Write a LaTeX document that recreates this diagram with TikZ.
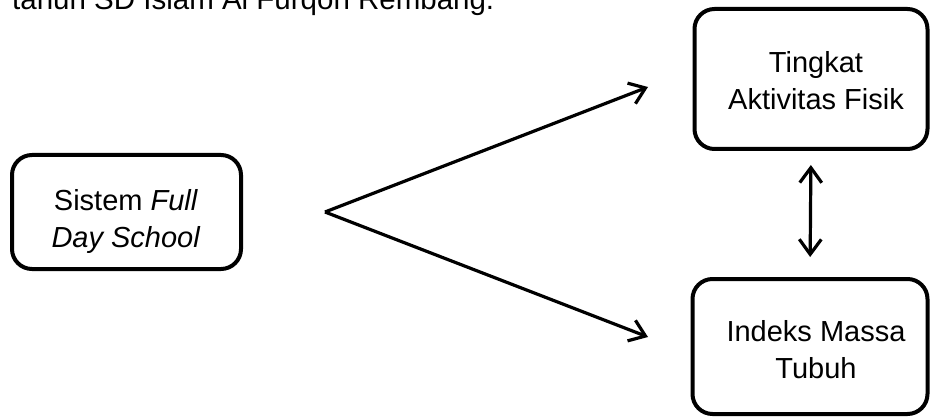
\documentclass[tikz,border=0pt]{standalone}
\usepackage{fontspec}
\setmainfont{Liberation Sans}
\usetikzlibrary{arrows.meta}
\begin{document}
\begin{tikzpicture}[x=1pt,y=-1pt,
  boxnode/.style={draw=black,line width=4pt,rounded corners=20pt,outer sep=0pt,inner sep=0pt},
  txt/.style={font=\fontsize{29}{37}\selectfont,align=center,inner sep=0pt},
  arr/.style={line width=3.2pt,-{Straight Barb[length=15pt,width=22pt]}},
  darr/.style={line width=3.2pt,{Straight Barb[length=15pt,width=22pt]}-{Straight Barb[length=15pt,width=22pt]}}]
\useasboundingbox (0,0) rectangle (930,417);
% top cut-off line of text
\node[txt,font=\fontsize{29.5}{37}\selectfont,anchor=base west] (head) at (12,10) {tahun SD Islam Al Furqon Rembang.};
% boxes
\node[boxnode,minimum width=229pt,minimum height=114pt] (fds) at (126.5,212) {};
\node[boxnode,minimum width=233pt,minimum height=140pt] (tar) at (811,79) {};
\node[boxnode,minimum width=235pt,minimum height=135pt] (imt) at (810,346.5) {};
% texts
\node[txt] (fdsT) at (126,222) {Sistem \textit{Full}\\\textit{Day School}};
\node[txt] (tarT) at (816,80.5) {Tingkat\\Aktivitas Fisik};
\node[txt] (imtT) at (816,349.5) {Indeks Massa\\Tubuh};
% connectors
\coordinate (fork) at (325,212);
\coordinate (e1) at (648,87);
\coordinate (e2) at (648,337);
\draw[arr] (fork) -- (e1);
\draw[arr] (fork) -- (e2);
\draw[darr,shorten <=16pt,shorten >=22pt] (tar.south) -- (imt.north);
\end{tikzpicture}
\end{document}
